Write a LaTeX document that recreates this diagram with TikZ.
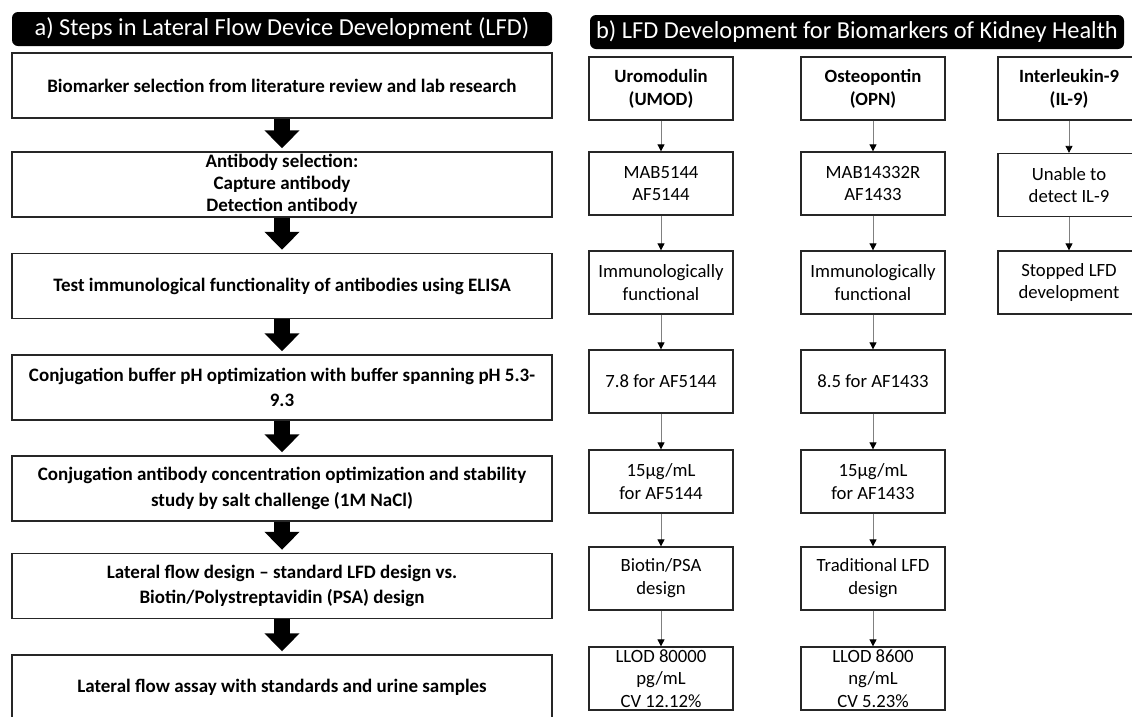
\documentclass[tikz,border=0pt]{standalone}
\usepackage{fontspec}
\setmainfont{Carlito}
\usetikzlibrary{arrows.meta}
\begin{document}
\begin{tikzpicture}[x=1pt,y=-1pt,
  hdr/.style={fill=black,rounded corners=6pt,text=white,inner sep=0pt,
    font=\fontsize{24.4}{28}\selectfont},
  lbox/.style={draw=black!85,line width=1.4pt,minimum width=540pt,minimum height=65pt,
    inner sep=0pt,align=center,font=\bfseries\fontsize{19}{25.5}\selectfont},
  rbox/.style={draw=black!85,line width=1.3pt,minimum width=144pt,minimum height=63pt,
    inner sep=0pt,align=center,font=\fontsize{18.7}{22.8}\selectfont},
  rtitle/.style={rbox,font=\bfseries\fontsize{18.7}{22.8}\selectfont},
  bigarrow/.style={line width=16pt,black,shorten >=3pt,
    -{Triangle[length=18pt,width=34pt]}},
  smallarrow/.style={draw=black!50,line width=0.8pt,
    -{Triangle[length=7pt,width=7pt,color=black,fill=black]}}
]
\useasboundingbox[fill=white] (0,0) rectangle (1132,716);

% headers
\node[hdr,minimum width=540pt,minimum height=34pt] (ha) at (282,29)
  {a) Steps in Lateral Flow Device Development (LFD)};
\node[hdr,minimum width=534pt,minimum height=34pt] (hb) at (857,32)
  {b) LFD Development for Biomarkers of Kidney Health};

% left column
\node[lbox] (l1) at (282,85.5) {Biomarker selection from literature review and lab research};
\node[lbox,font=\bfseries\fontsize{19}{22.3}\selectfont] (l2) at (282,184.5)
  {Antibody selection:\\Capture antibody\\Detection antibody};
\node[lbox] (l3) at (282,286) {Test immunological functionality of antibodies using ELISA};
\node[lbox] (l4) at (282,387.5) {Conjugation buffer pH optimization with buffer spanning pH 5.3-\\9.3};
\node[lbox] (l5) at (282,488.5) {Conjugation antibody concentration optimization and stability\\study by salt challenge (1M NaCl)};
\node[lbox] (l6) at (282,586) {Lateral flow design -- standard LFD design vs.\\Biotin/Polystreptavidin (PSA) design};
\node[lbox] (l7) at (282,687.5) {Lateral flow assay with standards and urine samples};

\foreach \a/\b in {l1/l2,l2/l3,l3/l4,l4/l5,l5/l6,l6/l7}
  \draw[bigarrow] (\a.south) -- (\b.north);

% right column 1 (UMOD)
\node[rtitle] (u1) at (661,88.5) {Uromodulin\\(UMOD)};
\node[rbox] (u2) at (661,183.5) {MAB5144\\AF5144};
\node[rbox] (u3) at (661,282.5) {Immunologically\\functional};
\node[rbox] (u4) at (661,381.5) {7.8 for AF5144};
\node[rbox] (u5) at (661,481.5) {15µg/mL\\for AF5144};
\node[rbox] (u6) at (661,578.5) {Biotin/PSA\\design};
\node[rbox] (u7) at (661,678.5) {LLOD 80000\\pg/mL\\CV 12.12\%};

% right column 2 (OPN)
\node[rtitle] (o1) at (873,88.5) {Osteopontin\\(OPN)};
\node[rbox] (o2) at (873,183.5) {MAB14332R\\AF1433};
\node[rbox] (o3) at (873,282.5) {Immunologically\\functional};
\node[rbox] (o4) at (873,381.5) {8.5 for AF1433};
\node[rbox] (o5) at (873,481.5) {15µg/mL\\for AF1433};
\node[rbox] (o6) at (873,578.5) {Traditional LFD\\design};
\node[rbox] (o7) at (873,678.5) {LLOD 8600\\ng/mL\\CV 5.23\%};

% right column 3 (IL-9)
\node[rtitle,minimum width=142pt] (i1) at (1069,88.5) {Interleukin-9\\(IL-9)};
\node[rbox,minimum width=142pt] (i2) at (1069,185) {Unable to\\detect IL-9};
\node[rbox,minimum width=142pt] (i3) at (1069,282.5) {Stopped LFD\\development};

\foreach \a/\b in {u1/u2,u2/u3,u3/u4,u4/u5,u5/u6,u6/u7,
                   o1/o2,o2/o3,o3/o4,o4/o5,o5/o6,o6/o7,
                   i1/i2,i2/i3}
  \draw[smallarrow] (\a.south) -- (\b.north);
\end{tikzpicture}
\end{document}
